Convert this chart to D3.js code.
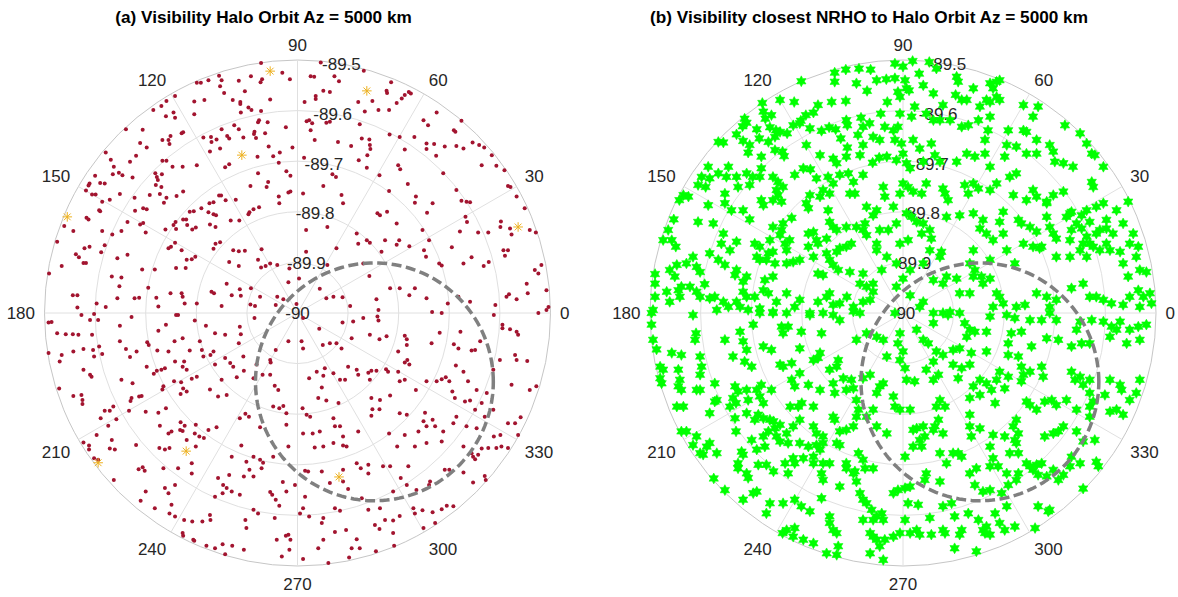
<!DOCTYPE html>
<html><head><meta charset="utf-8">
<script src="https://cdn.jsdelivr.net/npm/d3@7"></script>
<style>
body{margin:0;background:#fff}
svg{display:block}
text{font-family:"Liberation Sans",Arial,Helvetica,sans-serif}
</style>
</head><body>
<svg id="chart" width="1178" height="597"></svg>
<script>
// ---------------- data ----------------
// Point positions are offsets from the pole in millidegrees:
// [x toward azimuth 0°, y toward azimuth 90°]; elevation = -90 + hypot/1000.
const titles = ["(a) Visibility Halo Orbit Az = 5000 km",
                "(b) Visibility closest NRHO to Halo Orbit Az = 5000 km"];
const thetaTicks = [0,30,60,90,120,150,180,210,240,270,300,330];
const rTicks = [-90,-89.9,-89.8,-89.7,-89.6,-89.5];
const rLabelAngle = 80;

const haloVisible = [
[-72,494],[-30,475],[-15,462],[-92,468],[-155,469],[-150,460],[-176,460],[-199,455],[-191,455],[-116,459],[-70,462],[-73,456],[-153,448],[-104,438],[-145,435],[-242,429],[-54,422],[-128,421],[-113,417],[-113,413],[-184,421],[-204,418],[-259,419],[-97,406],[-91,401],[-72,399],[-112,396],[-245,396],[-242,386],[-260,389],[-204,393],[-76,381],[-78,377],[-59,377],[-125,371],[-150,363],[-116,363],[-23,367],[-285,401],[-269,409],[-339,363],[-306,362],
[-226,357],[-229,355],[-267,342],[-255,342],[-253,334],[-251,350],[-311,336],[-298,327],[-186,347],[-171,348],[-160,343],[-139,350],[-135,345],[-107,347],[-85,358],[-86,354],[-82,346],[-64,355],[-57,329],[-170,338],[-153,325],[-173,319],[-10,327],[-35,317],[-48,310],[-79,309],[-135,294],[-143,288],[-199,292],[-227,289],[-267,301],[-259,301],[-247,289],[-319,311],[-331,299],[-369,303],[-363,289],[-379,317],
[-281,276],[-278,269],[-268,274],[-276,263],[-353,277],[-365,274],[-326,268],[-346,272],[-400,271],[-411,256],[-413,252],[-418,242],[-406,234],[-399,234],[-381,256],[-390,257],[-386,220],[-351,235],[-322,228],[-292,233],[-280,253],[-269,249],[-272,235],[-259,228],[-239,231],[-226,240],[-264,218],[-174,217],[-166,219],[-155,232],[-151,232],[-18,238],[-14,240],[-37,230],[-22,280],[-14,271],[-37,297],[-58,259],[-61,249],[-93,251],[-78,276],
[-176,199],[-166,195],[-161,193],[-190,207],[-213,200],[-205,201],[-220,185],[-218,174],[-226,185],[-241,180],[-245,174],[-261,165],[-132,183],[-115,183],[-95,199],[-87,205],[-76,209],[-97,195],[-36,217],[-122,224],[-142,223],[-305,207],[-298,205],[-321,202],[-371,224],[-390,201],[-417,188],[-413,185],[-443,162],[-461,172],[-392,203],[-386,162],[-366,155],[-348,162],[-336,180],[-311,175],[-305,178],[-300,159],[-240,166],[-208,165],[-201,169],[-173,175],[-162,170],
[-153,140],[-166,127],[-162,137],[-202,111],[-209,106],[-242,139],[-250,131],[-255,128],[-229,124],[-219,105],[-240,89],[-221,89],[-282,86],[-307,86],[-336,115],[-356,108],[-381,134],[-388,120],[-421,128],[-411,131],[-438,116],[-432,110],[-423,99],[-418,99],[-466,93],[-475,141],[-127,124],[-116,122],[-104,123],[-71,126],[-135,101],[-116,93],[-78,105],[-63,93],[-54,98],[-72,90],[-40,95],[-16,88],
[-491,78],[-444,35],[-435,35],[-435,11],[-397,19],[-379,12],[-367,72],[-348,70],[-352,53],[-356,29],[-313,30],[-322,29],[-295,50],[-279,30],[-275,13],[-251,39],[-229,39],[-227,32],[-223,19],[-199,19],[-170,42],[-165,39],[-150,14],[-140,58],[-130,35],[-114,47],[-112,34],[-92,49],[-93,17],[-84,14],[-74,32],[-40,32],[-18,61],[-28,27],[-43,16],[-2,18],
[46,495],[26,468],[33,467],[73,468],[82,458],[131,479],[185,456],[51,439],[64,437],[36,429],[36,423],[14,417],[148,419],[120,417],[176,439],[177,435],[212,431],[220,437],[224,434],[206,424],[196,415],[133,398],[160,401],[181,401],[123,373],[249,381],[258,371],[275,396],[309,361],[312,358],[324,380],[23,381],[18,379],[29,375],[26,361],[57,376],[64,378],
[34,342],[80,338],[106,330],[127,345],[142,343],[143,332],[144,324],[182,353],[202,348],[231,348],[212,323],[255,335],[255,324],[270,334],[274,311],[291,329],[314,330],[328,325],[346,337],[359,332],[369,327],[384,312],[13,307],[121,302],[138,312],
[69,274],[76,269],[137,287],[162,272],[199,292],[203,284],[218,255],[288,276],[314,243],[364,292],[393,291],[409,282],[416,251],[433,230],[449,207],[11,236],[51,251],[87,233],[181,241],[234,230],[232,218],[256,198],[267,217],[324,222],[334,220],[341,219],[90,217],
[17,164],[59,170],[117,157],[120,137],[137,144],[158,197],[163,193],[177,200],[196,177],[247,164],[260,144],[305,130],[321,161],[332,190],[335,180],[357,159],[377,159],[402,181],[401,170],[420,167],[423,155],[459,164],[471,159],[201,144],[173,144],
[166,121],[196,135],[221,132],[250,124],[254,111],[280,98],[285,94],[328,98],[344,110],[368,93],[378,101],[407,124],[416,124],[410,113],[469,85],[476,78],[482,95],[77,128],[59,95],[17,121],[130,98],[142,73],
[3,68],[44,48],[71,32],[89,31],[57,29],[104,14],[156,27],[160,6],[183,49],[202,49],[221,35],[232,49],[255,29],[266,2],[297,19],[318,32],[341,22],[391,16],[413,32],[433,27],[453,58],[455,39],[492,45],[492,6],
[421,249],[418,37],[496,12],[143,139],
[-492,-19],[-427,-4],[-410,-14],[-402,-2],[-394,-14],[-351,-25],[-328,-8],[-275,-35],[-260,-23],[-240,-4],[-203,-15],[-181,-25],[-163,-40],[-143,-43],[-114,-27],[-112,-42],[-85,-10],[-475,-40],[-458,-42],[-444,-42],[-433,-43],[-406,-43],[-443,-76],[-423,-71],[-404,-73],[-392,-66],[-386,-81],[-402,-86],[-466,-83],[-492,-79],[-470,-96],[-351,-56],[-339,-71],[-331,-87],[-318,-76],[-297,-58],[-277,-74],[-255,-76],[-243,-56],[-227,-50],[-213,-74],[-193,-56],[-189,-73],[-186,-86],[-172,-83],[-166,-76],[-143,-89],[-133,-99],[-116,-60],[-107,-86],[-43,-73],[-54,-93],[-18,-56],
[-298,-106],[-284,-120],[-278,-114],[-262,-109],[-242,-96],[-224,-96],[-227,-106],[-219,-112],[-209,-130],[-199,-126],[-163,-102],[-150,-132],[-127,-106],[-120,-127],[-106,-114],[-87,-129],[-81,-102],[-69,-122],[-54,-122],[-45,-144],[-38,-152],[-423,-112],[-410,-122],[-348,-132],[-326,-139],[-308,-164],[-328,-168],[-265,-145],[-244,-135],[-230,-137],[-226,-149],[-219,-155],[-231,-160],[-173,-151],[-157,-165],[-140,-162],[-471,-149],[-443,-164],[-427,-162],[-425,-172],
[-381,-193],[-371,-193],[-364,-185],[-374,-223],[-389,-208],[-358,-210],[-333,-193],[-300,-195],[-275,-197],[-260,-188],[-231,-216],[-223,-223],[-232,-231],[-249,-234],[-272,-223],[-201,-221],[-176,-231],[-160,-226],[-114,-208],[-103,-199],[-96,-205],[-74,-226],[-48,-185],[-36,-188],[-28,-184],[-22,-198],[-22,-221],[-397,-241],[-367,-251],[-371,-268],[-319,-261],[-273,-267],[-253,-267],[-203,-238],[-194,-244],[-185,-247],[-219,-251],[-201,-264],[-111,-262],[-130,-284],[-423,-256],[-412,-262],[-402,-287],[-394,-290],[-101,-294],[-87,-284],[-74,-290],[-68,-296],[-48,-284],[-18,-264],
[-363,-330],[-314,-309],[-302,-312],[-265,-307],[-236,-307],[-209,-297],[-209,-317],[-242,-340],[-262,-346],[-255,-356],[-300,-353],[-310,-371],[-282,-386],[-157,-326],[-135,-320],[-147,-340],[-148,-356],[-130,-353],[-114,-359],[-106,-323],[-95,-310],[-87,-323],[-71,-307],[-54,-354],[-43,-369],[-36,-381],[-29,-334],[-22,-353],[-5,-340],[-163,-363],
[-249,-379],[-253,-396],[-242,-402],[-224,-409],[-208,-412],[-188,-412],[-172,-409],[-173,-399],[-227,-435],[-226,-440],[-206,-448],[-180,-460],[-163,-465],[-148,-457],[-129,-460],[-106,-468],[-143,-477],[-87,-389],[-78,-396],[-45,-405],[-18,-438],[-14,-448],[-16,-468],[-31,-481],[-41,-448],[-103,-409],[-101,-425],
[-486,-18],[-236,-4],[-294,-63],[-269,-112],[-53,-98],[-407,-126],[-313,-165],[-330,-174],[-267,-151],[-425,-180],[-227,-233],[-255,-238],[-361,-270],[-262,-270],[-412,-270],[-306,-305],[-140,-346],[-50,-359],[-23,-440],[-204,-450],
[11,-10],[89,-19],[110,-17],[130,-10],[158,-7],[285,0],[388,-4],[405,-23],[420,-32],[433,-37],[476,0],[43,-31],[8,-56],[11,-70],[50,-63],[64,-60],[77,-60],[87,-70],[107,-50],[143,-43],[162,-52],[176,-46],[212,-45],[216,-63],[199,-76],[265,-60],[281,-39],[309,-62],[318,-70],[322,-37],[344,-74],[361,-56],[400,-93],[430,-83],[454,-95],
[38,-116],[54,-109],[51,-124],[48,-147],[71,-119],[84,-132],[100,-106],[117,-112],[140,-118],[156,-114],[175,-111],[143,-132],[199,-116],[212,-98],[202,-135],[255,-135],[275,-135],[285,-131],[300,-135],[313,-104],[328,-116],[337,-135],[354,-152],[374,-158],[387,-112],[423,-142],[459,-152],[472,-145],[23,-129],[41,-168],[146,-168],[163,-172],[183,-163],[234,-152],[306,-155],[331,-175],[364,-178],[351,-191],[387,-191],[441,-206],
[10,-188],[18,-201],[57,-173],[81,-178],[71,-208],[74,-224],[90,-244],[97,-264],[120,-234],[146,-203],[148,-190],[202,-198],[252,-197],[249,-214],[239,-234],[255,-224],[267,-211],[288,-234],[308,-218],[334,-224],[354,-228],[370,-205],[388,-244],[416,-218],[436,-241],[11,-238],[30,-238],[44,-234],[51,-264],[71,-257],[90,-262],[181,-238],[197,-264],[212,-241],[232,-264],[255,-257],[285,-254],[328,-264],[344,-277],[364,-268],[393,-267],[416,-267],
[15,-312],[48,-313],[90,-310],[117,-297],[140,-300],[140,-317],[169,-303],[204,-326],[219,-303],[216,-340],[235,-350],[262,-333],[291,-310],[328,-315],[351,-289],[370,-322],[347,-335],[15,-363],[64,-336],[90,-333],[100,-348],[127,-366],[189,-353],[295,-381],
[74,-386],[51,-405],[5,-396],[23,-402],[51,-448],[74,-433],[96,-429],[140,-389],[163,-386],[173,-409],[202,-401],[229,-386],[247,-390],[267,-394],[285,-388],[249,-425],[272,-415],[162,-427],[189,-435],[117,-447],[123,-465],[102,-483],[61,-494],[11,-486],[41,-465],[155,-471],[191,-460],
[160,-15],[405,-30],[436,-43],[216,-52],[351,-73],[433,-93],[94,-132],[120,-122],[146,-114],[179,-116],[217,-93],[221,-102],[212,-132],[293,-127],[311,-168],[341,-173],[25,-205],[84,-224],[162,-190],[216,-201],[272,-224],[314,-205],[401,-241],[430,-218],[34,-266],[347,-284],[357,-280],[377,-267],[403,-264],[21,-313],[125,-307],[183,-303],[260,-340],[300,-310],[372,-330],[308,-382],[84,-391],[48,-415],[11,-386],[189,-410],[232,-396],[153,-419],[107,-465]
];

const haloHighlight = [[-54,478],[137,439],[-110,312],[-455,190],[436,170],[-394,-296],[-220,-273],[82,-324]];

const nrhoVisible = [
[-135,475],[-113,481],[-87,483],[-64,481],[-92,454],[-71,439],[-52,460],[-33,462],[-135,457],[-201,458],[-278,415],[-243,421],[-215,417],[-141,417],[-113,419],[-31,417],[-177,396],[-192,391],[-202,380],[-276,398],[-272,384],[-313,384],[-309,376],[-251,361],[-229,355],[-112,381],[-83,386],[-79,368],[-66,375],[-44,394],[-36,368],[-184,365],[-161,360],[-146,367],
[-365,338],[-329,353],[-316,340],[-303,332],[-284,345],[-266,338],[-306,317],[-280,309],[-238,319],[-191,332],[-164,312],[-138,305],[-123,345],[-110,327],[-89,352],[-79,332],[-59,348],[-46,342],[-32,309],[-60,297],
[-385,289],[-398,269],[-405,253],[-365,276],[-345,289],[-329,269],[-326,249],[-309,276],[-303,253],[-280,286],[-283,269],[-257,269],[-250,243],[-214,273],[-197,286],[-171,266],[-148,269],[-138,256],[-108,276],[-79,273],[-434,233],[-352,236],[-280,223],[-257,223],[-184,233],[-191,217],[-158,243],[-105,236],[-39,249],[-36,230],
[-453,185],[-464,164],[-474,144],[-405,180],[-375,177],[-385,213],[-352,217],[-339,203],[-316,203],[-303,185],[-276,213],[-237,177],[-220,188],[-240,164],[-187,157],[-171,144],[-148,203],[-145,180],[-131,164],[-92,170],[-75,177],[-59,193],[-46,164],[-355,157],[-359,137],[-329,141],[-293,137],[-263,144],[-257,121],[-233,137],[-187,131],[-168,137],[-151,118],[-145,105],[-131,121],[-79,164],[-72,154],[-52,137],[-32,111],
[-415,111],[-428,98],[-408,91],[-447,95],[-461,85],[-490,77],[-490,58],[-451,72],[-438,52],[-382,118],[-365,105],[-352,95],[-329,85],[-316,62],[-289,111],[-270,105],[-253,98],[-257,72],[-273,65],[-230,98],[-177,111],[-168,78],[-138,95],[-105,81],[-79,78],[-85,58],[-72,52],
[-490,32],[-494,6],[-467,42],[-461,22],[-444,45],[-408,42],[-392,57],[-382,29],[-355,22],[-329,22],[-309,32],[-306,6],[-276,45],[-283,9],[-257,2],[-230,39],[-214,12],[-204,26],[-184,0],[-168,22],[-151,32],[-138,16],[-111,32],[-98,12],[-79,22],
[-317,369],[-243,358],[-110,371],[-355,337],[-235,310],[-47,307],[-382,266],[-390,249],[-297,269],[-247,259],[-237,249],[-183,284],[-442,223],[-457,144],[-243,154],[-177,160],[-138,170],[-283,131],[-224,144],[-125,128],[-401,81],[-332,75],[-266,118],[-217,101],[-158,75],[-401,32],[-372,32],[-345,12],[-322,12],[-293,32],[-125,19],[-65,26],
[-168,411],[-260,391],[-289,363],[-263,367],[-204,375],[-217,371],[-133,363],[-253,348],[-253,322],[-131,296],[-85,312],[-112,309],[-349,269],[-125,273],[-98,259],[-424,230],[-247,233],[-240,220],[-187,207],[-164,230],[-145,236],[-95,236],[-449,131],[-257,170],[-151,147],[-112,170],[-52,203],[-72,210],[-29,164],[-342,124],[-230,124],[-112,131],[-102,137],[-52,124],[-421,52],[-309,72],[-283,105],[-204,105],[-128,85],[-59,58],[-42,85],[-441,32],[-368,6],[-316,42],[-266,39],[-250,22],[-145,39],[-59,42],
[-16,493],[0,487],[19,498],[52,496],[66,483],[32,473],[4,460],[40,450],[60,434],[7,444],[-10,437],[106,467],[104,431],[116,421],[139,444],[172,454],[185,457],[185,427],[172,417],[23,408],[-6,394],[-19,361],[17,388],[46,394],[60,381],[79,411],[93,381],[116,368],[152,408],[149,381],[172,388],[168,361],[238,411],[238,361],[257,388],[267,408],[320,371],[350,355],[363,335],[373,315],
[-16,342],[0,315],[20,342],[33,325],[56,335],[40,299],[-13,302],[7,296],[63,312],[106,299],[126,315],[142,309],[162,315],[172,289],[162,342],[205,332],[201,309],[224,329],[264,315],[290,332],[297,319],[300,299],[317,296],[336,289],[373,259],[396,289],
[-6,236],[10,249],[37,236],[46,256],[79,246],[89,223],[122,253],[129,236],[139,256],[172,243],[185,256],[211,269],[218,233],[244,223],[257,243],[284,217],[297,233],[317,240],[333,200],[353,193],[369,180],[382,210],[396,217],[422,203],[445,220],
[-19,210],[-13,177],[7,197],[27,180],[37,157],[56,147],[86,190],[112,193],[139,197],[152,167],[165,157],[191,180],[198,200],[198,157],[228,184],[251,170],[264,161],[284,190],[290,170],[270,128],[333,164],[353,167],[363,151],[369,137],[382,157],[402,167],[415,157],[455,157],[465,131],
[-6,137],[10,144],[53,124],[73,111],[14,85],[0,68],[139,124],[132,98],[172,105],[205,124],[221,98],[257,131],[303,111],[330,111],[350,124],[363,111],[376,131],[402,137],[429,121],[461,111],[445,72],[468,85],
[-13,52],[14,35],[33,12],[60,65],[86,72],[112,39],[132,39],[139,72],[158,58],[185,39],[178,12],[198,19],[224,12],[264,39],[284,32],[290,12],[333,49],[356,58],[369,32],[396,26],[412,19],[448,32],[465,45],[488,39],[93,2],
[-16,464],[12,440],[109,457],[126,421],[191,460],[191,421],[129,371],[244,358],[-3,335],[376,249],[20,240],[83,236],[224,276],[363,203],[40,177],[158,184],[297,157],[343,177],[274,131],[389,124],[142,85],[172,68],[382,32],[475,32],[241,16],
[-6,427],[-10,368],[73,381],[208,361],[379,312],[178,444],[165,421],[14,286],[73,299],[264,342],[244,315],[0,256],[149,246],[264,230],[330,197],[402,184],[17,190],[53,164],[178,144],[234,177],[284,220],[303,147],[323,190],[389,164],[435,177],[448,137],[330,144],[76,121],[40,98],[-13,98],[238,137],[356,137],[409,124],[435,98],[481,81],[40,22],[79,58],[106,68],[155,72],[191,32],[303,26],[435,16],[491,19],[468,12],[60,0],
[-497,0],[-497,-23],[-415,-4],[-283,0],[-257,0],[-230,0],[-184,-4],[-158,0],[-138,-4],[-98,3],[-409,-40],[-352,-53],[-322,-37],[-316,-56],[-309,-73],[-296,-23],[-276,-66],[-260,-73],[-240,-27],[-201,-37],[-204,-70],[-161,-40],[-92,-53],[-494,-53],[-487,-72],[-457,-79],[-438,-83],
[-480,-106],[-480,-129],[-444,-112],[-441,-132],[-438,-152],[-401,-86],[-398,-106],[-408,-152],[-372,-139],[-368,-172],[-336,-86],[-313,-96],[-332,-145],[-336,-168],[-309,-152],[-289,-152],[-280,-142],[-283,-165],[-260,-152],[-243,-102],[-220,-99],[-220,-132],[-204,-119],[-187,-142],[-177,-93],[-164,-79],[-145,-112],[-131,-106],[-118,-129],[-164,-152],[-138,-139],[-135,-158],[-112,-152],[-79,-129],[-65,-122],[-39,-139],[-32,-86],
[-447,-185],[-382,-198],[-372,-175],[-342,-185],[-332,-208],[-330,-234],[-309,-198],[-293,-211],[-276,-208],[-263,-211],[-243,-221],[-276,-244],[-273,-264],[-266,-234],[-230,-238],[-217,-224],[-204,-211],[-207,-185],[-177,-185],[-177,-224],[-171,-238],[-158,-244],[-138,-205],[-125,-234],[-98,-224],[-92,-205],[-72,-205],[-59,-191],[-32,-238],[-438,-234],[-408,-244],[-415,-261],[-388,-264],[-401,-277],[-368,-277],[-319,-274],[-299,-251],[-289,-270],[-243,-254],[-204,-257],[-171,-261],[-131,-257],[-88,-277],[-112,-297],[-75,-307],
[-326,-297],[-309,-317],[-270,-300],[-233,-297],[-227,-317],[-217,-287],[-197,-287],[-177,-297],[-158,-297],[-158,-330],[-125,-343],[-112,-307],[-98,-317],[-92,-333],[-85,-356],[-79,-369],[-62,-389],[-52,-402],[-39,-409],[-374,-327],[-352,-350],[-316,-369],[-296,-356],[-263,-376],[-270,-396],[-237,-376],[-214,-369],[-201,-382],[-161,-366],[-145,-402],[-138,-429],[-151,-475],[-131,-478],[-238,-435],[-230,-429],[-214,-425],[-197,-448],[-79,-409],[-59,-442],[-46,-461],[-65,-475],[-39,-488],
[-411,-53],[-237,-40],[-227,-27],[-85,0],[-125,-14],[-72,-40],[-52,-47],[-477,-139],[-474,-112],[-444,-145],[-401,-122],[-401,-152],[-326,-155],[-330,-178],[-306,-172],[-299,-106],[-276,-178],[-237,-106],[-214,-145],[-168,-89],[-128,-93],[-102,-132],[-98,-149],[-92,-172],[-52,-158],[-46,-145],[-39,-53],[-434,-185],[-286,-201],[-256,-214],[-253,-228],[-250,-244],[-223,-185],[-200,-178],[-158,-257],[-135,-211],[-112,-231],[-88,-191],[-52,-224],[-428,-234],[-382,-257],[-395,-280],[-316,-280],[-227,-257],[-187,-264],[-164,-270],[-125,-261],[-79,-290],[-59,-307],
[-326,-307],[-306,-326],[-286,-300],[-256,-313],[-214,-297],[-177,-284],[-161,-317],[-145,-297],[-95,-313],[-72,-376],[-42,-396],[-59,-409],[-289,-353],[-184,-392],[-145,-415],[-131,-435],[-128,-461],[-217,-442],[-177,-455],[-65,-435],[-52,-448],[-36,-448],
[-16,0],[60,-20],[79,0],[112,0],[132,-33],[126,-47],[165,-37],[172,-7],[205,-4],[214,-40],[234,-37],[251,-14],[274,-14],[284,-50],[290,0],[307,-53],[333,-66],[350,-17],[369,-60],[396,-17],[412,-27],[448,-33],[465,-27],[481,-23],[468,-53],[-6,-40],[-10,-60],[0,-76],[27,-33],[40,-53],[99,-73],[135,-79],[165,-76],[208,-83],
[4,-109],[7,-132],[23,-135],[46,-112],[70,-122],[99,-102],[109,-129],[152,-132],[185,-132],[208,-126],[234,-106],[251,-116],[274,-106],[277,-126],[333,-116],[350,-126],[369,-132],[369,-158],[399,-162],[429,-142],[448,-172],[468,-132],[73,-172],[66,-185],[132,-168],[175,-152],[244,-175],[264,-191],[280,-175],[303,-182],[323,-172],[369,-185],[409,-195],[435,-201],
[-16,-185],[14,-191],[20,-231],[40,-224],[60,-231],[43,-244],[70,-211],[132,-201],[132,-224],[152,-228],[172,-264],[178,-241],[201,-244],[211,-277],[218,-224],[221,-251],[264,-300],[280,-244],[307,-234],[317,-224],[379,-251],[37,-264],[86,-297],[99,-277],[116,-284],[4,-284],[46,-317],[132,-317],[172,-303],
[-19,-356],[4,-346],[10,-376],[53,-405],[79,-382],[102,-402],[116,-429],[129,-396],[149,-409],[158,-429],[182,-396],[191,-415],[221,-422],[224,-330],[158,-353],[195,-356],[251,-303],[267,-320],[297,-310],[307,-330],[333,-284],[350,-297],[356,-347],[382,-294],[267,-382],[287,-392],[261,-425],[-6,-435],[14,-435],[33,-438],[56,-438],[79,-429],[102,-465],[145,-471],
[89,-4],[122,-20],[142,-37],[221,-10],[303,-14],[343,-33],[353,-60],[373,-14],[422,-33],[429,-17],[442,-60],[409,-47],[50,-60],[66,-76],[79,-83],[112,-70],[208,-60],[228,-86],[254,-66],[-6,-93],[60,-132],[60,-96],[116,-109],[132,-102],[139,-145],[165,-139],[201,-149],[191,-116],[238,-122],[234,-135],[340,-132],[356,-142],[376,-175],[409,-132],[432,-152],[461,-158],
[83,-185],[152,-162],[182,-178],[251,-182],[294,-172],[343,-191],[369,-205],[422,-191],[-19,-165],[-6,-191],[27,-228],[33,-251],[63,-224],[79,-238],[135,-244],[224,-211],[228,-238],[224,-257],[228,-277],[274,-297],[297,-238],[343,-234],[356,-254],[20,-264],[73,-277],[109,-277],[43,-330],[73,-333],[145,-307],[188,-303],[178,-287],
[-10,-350],[14,-343],[30,-379],[96,-376],[165,-422],[172,-438],[201,-429],[205,-382],[228,-317],[205,-317],[142,-340],[172,-350],[208,-340],[244,-297],[257,-310],[284,-323],[317,-320],[330,-303],[386,-303],[290,-389],[4,-409],[-19,-442],[27,-429],[83,-435],[112,-438],[162,-435]
];

// reference coverage circle (same in both panels): centre offset and radius, millidegrees
const zoneCenter = [152, -136];
const zoneRadius = [235];

// ---------------- drawing ----------------
const R = 253;
const panelCenters = [[297.5, 313], [903, 313]];
const titleCenters = [263.5, 869];

const svg = d3.select("#chart");
const rScale = d3.scaleLinear().domain([-90, -89.5]).range([0, R]);
const aScale = d3.scaleLinear().domain([0, 360]).range([Math.PI / 2, Math.PI / 2 - 2 * Math.PI]);

function toPolar(p) {
  return { az: (Math.atan2(p[1], p[0]) * 180 / Math.PI + 360) % 360,
           el: -90 + Math.hypot(p[0], p[1]) / 1000 };
}
function proj(az, el) { return d3.pointRadial(aScale(az), rScale(el)); }
function projPt(p) { const q = toPolar(p); return proj(q.az, q.el); }

function hexagram(ro, ri) {
  const pts = [];
  for (let i = 0; i < 12; i++) {
    const a = -Math.PI / 2 + i * Math.PI / 6;
    const r = i % 2 === 0 ? ro : ri;
    pts.push([r * Math.cos(a), r * Math.sin(a)]);
  }
  return "M" + pts.map(p => p[0].toFixed(2) + "," + p[1].toFixed(2)).join("L") + "Z";
}
function asterisk(s) {
  let d = "";
  for (let i = 0; i < 4; i++) {
    const a = i * Math.PI / 4;
    const dx = s * Math.cos(a), dy = s * Math.sin(a);
    d += `M${(-dx).toFixed(2)},${(-dy).toFixed(2)}L${dx.toFixed(2)},${dy.toFixed(2)}`;
  }
  return d;
}

function drawPanel(i) {
  const [cx, cy] = panelCenters[i];
  svg.append("text").attr("x", titleCenters[i]).attr("y", 23)
    .attr("text-anchor", "middle").attr("font-size", 17.2).attr("font-weight", "bold")
    .attr("fill", "#000").text(titles[i]);

  const g = svg.append("g").attr("transform", `translate(${cx},${cy})`);

  g.selectAll("circle.grid").data(rTicks.slice(1)).join("circle")
    .attr("r", d => rScale(d)).attr("fill", "none")
    .attr("stroke", d => d === -89.5 ? "#c6c6c6" : "#e0e0e0").attr("stroke-width", 1);
  g.selectAll("line.spoke").data(thetaTicks).join("line")
    .attr("x1", 0).attr("y1", 0)
    .attr("x2", d => proj(d, -89.5)[0]).attr("y2", d => proj(d, -89.5)[1])
    .attr("stroke", "#e0e0e0").attr("stroke-width", 1);

  const labEl = rScale.invert(R + 9.5);
  const fs = 17;
  g.selectAll("text.theta").data(thetaTicks).join("text")
    .attr("font-size", fs).attr("fill", "#262626")
    .attr("text-anchor", d => {
      const c = Math.cos(d * Math.PI / 180);
      return c > 0.01 ? "start" : (c < -0.01 ? "end" : "middle");
    })
    .attr("x", d => proj(d, labEl)[0])
    .attr("y", d => {
      const s = Math.sin(d * Math.PI / 180), y = proj(d, labEl)[1];
      if (s > 0.01) return y;
      if (s < -0.01) return y + 2 + fs * 0.716;
      return y + fs * 0.716 / 2;
    })
    .text(d => d);

  g.selectAll("text.rlab").data(rTicks).join("text")
    .attr("font-size", fs).attr("fill", "#262626").attr("text-anchor", "middle")
    .attr("x", d => proj(rLabelAngle, d)[0])
    .attr("y", d => proj(rLabelAngle, d)[1] + fs * 0.716 / 2)
    .text(d => d.toString());

  if (i === 0) {
    g.selectAll("circle.pt").data(haloVisible).join("circle")
      .attr("cx", d => projPt(d)[0]).attr("cy", d => projPt(d)[1])
      .attr("r", 2).attr("fill", "#a2142f");
    g.selectAll("path.ast").data(haloHighlight).join("path")
      .attr("transform", d => `translate(${projPt(d)[0]},${projPt(d)[1]})`)
      .attr("d", asterisk(4.8)).attr("stroke", "#edb120").attr("stroke-width", 1).attr("fill", "none");
  } else {
    const hp = hexagram(5.4, 3.0);
    g.selectAll("path.star").data(nrhoVisible).join("path")
      .attr("transform", d => `translate(${projPt(d)[0]},${projPt(d)[1]})`)
      .attr("d", hp).attr("fill", "#00ff00").attr("stroke", "#00ff00").attr("stroke-width", 0.6);
  }

  const ring = d3.range(0, 361, 2).map(t => {
    const a = t * Math.PI / 180;
    return projPt([zoneCenter[0] + zoneRadius[0] * Math.cos(a), zoneCenter[1] + zoneRadius[0] * Math.sin(a)]);
  });
  g.append("path").attr("d", d3.line()(ring)).attr("fill", "none")
    .attr("stroke", "#808080").attr("stroke-width", 3.5)
    .attr("stroke-dasharray", "10,4.5");
}
drawPanel(0);
drawPanel(1);
</script>
</body></html>
